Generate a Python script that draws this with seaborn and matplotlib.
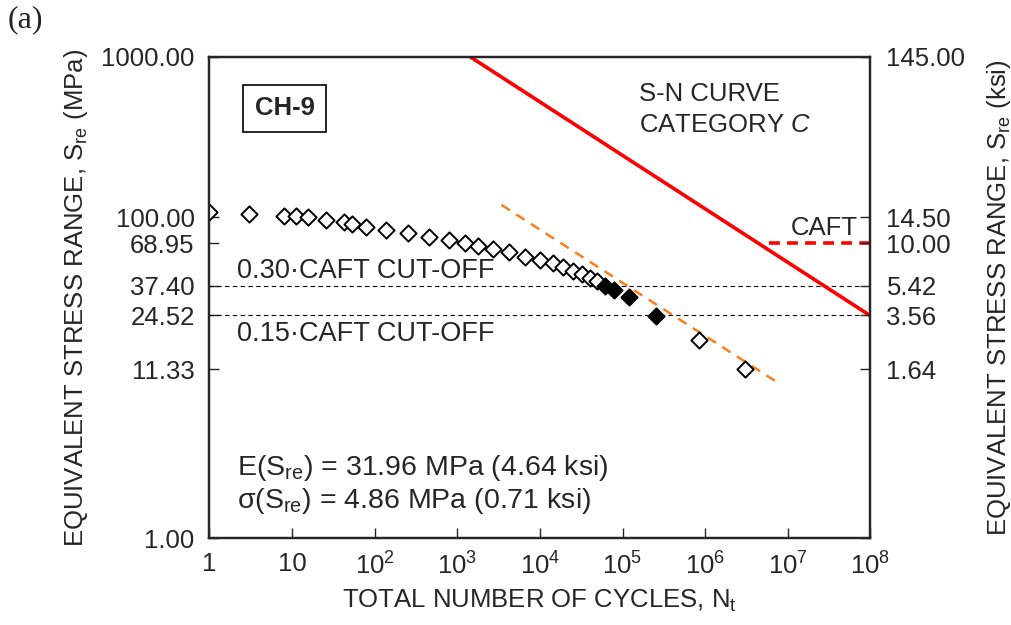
import matplotlib
matplotlib.use("Agg")
import matplotlib.pyplot as plt
import seaborn as sns
import pandas as pd

# measured fatigue data (cycles, equivalent stress range in MPa)
open_cycles = [1, 3.05, 8.07, 11.2, 15.7, 25.8, 42.5, 53.6, 78.5, 137, 255, 457, 798,
               1225, 1790, 2720, 4200, 6560, 10170, 14300, 19300, 25000, 32400,
               40100, 49200, 8.33e5, 3.06e6]
open_stress = [107.6, 105, 102.5, 102.5, 101, 96.3, 94, 91.4, 87.2, 83.8, 79.6, 75.5,
               72.6, 69.6, 66, 63.2, 60.8, 56.9, 54.2, 51.7, 48.9, 46.3, 44.0, 42.1,
               40.3, 17.2, 11.4]
filled_cycles = [62100, 78300, 119000, 254000]
filled_stress = [37.5, 35.2, 31.7, 24.4]

# S-N curve category C, fitted trend, CAFT
sn_cycles = [1.44e3, 1e8]
sn_stress = [1000, 24.3]
fit_cycles = [3.43e3, 7.26e6]
fit_stress = [119.5, 9.44]
caft_cycles = [6.0e6, 1e8]
caft_stress = [68.95, 68.95]
cutoff_030 = 37.40
cutoff_015 = 24.52

left_ticks = [1.00, 11.33, 24.52, 37.40, 68.95, 100.00, 1000.00]
right_labels = ["", "1.64", "3.56", "5.42", "10.00", "14.50", "145.00"]
x_ticks = [1, 10, 1e2, 1e3, 1e4, 1e5, 1e6, 1e7, 1e8]
x_labels = ["1", "10", "$10^{2}$", "$10^{3}$", "$10^{4}$", "$10^{5}$",
            "$10^{6}$", "$10^{7}$", "$10^{8}$"]

sns.set_style("ticks")
plt.rcParams["font.family"] = ["Liberation Sans", "DejaVu Sans"]
plt.rcParams["mathtext.fontset"] = "custom"
plt.rcParams["mathtext.rm"] = "Liberation Sans"
plt.rcParams["mathtext.it"] = "Liberation Sans:italic"
plt.rcParams["mathtext.bf"] = "Liberation Sans:bold"

FS = 18.5

fig = plt.figure(figsize=(10.11, 6.25), dpi=100)
ax = fig.add_axes([0.207, 0.139, 0.654, 0.770])
ax.set_xscale("log")
ax.set_yscale("log")

sns.lineplot(x=sn_cycles, y=sn_stress, ax=ax, color="#ff0000", linewidth=2.6)
sns.lineplot(x=fit_cycles, y=fit_stress, ax=ax, color="#f7801e", linewidth=1.8,
             linestyle=(0, (4, 3)))
sns.lineplot(x=caft_cycles, y=caft_stress, ax=ax, color="#ff0000", linewidth=2.6,
             linestyle=(0, (3, 2)))
ax.axhline(cutoff_030, color="black", linewidth=0.8, linestyle=(0, (4, 3)), zorder=1)
ax.axhline(cutoff_015, color="black", linewidth=0.8, linestyle=(0, (4, 3)), zorder=1)

open_df = pd.DataFrame({"cycles": open_cycles, "stress": open_stress})
filled_df = pd.DataFrame({"cycles": filled_cycles, "stress": filled_stress})
sns.scatterplot(data=open_df, x="cycles", y="stress", ax=ax, marker="D", s=68,
                facecolor="white", edgecolor="black", linewidth=1.4, zorder=5)
sns.scatterplot(data=filled_df, x="cycles", y="stress", ax=ax, marker="D", s=68,
                color="black", edgecolor="black", linewidth=1.4, zorder=5)

ax.set_xlim(1, 1e8)
ax.set_ylim(1, 1000)
ax.minorticks_off()
ax.set_xticks(x_ticks)
ax.set_xticklabels(x_labels)
ax.set_yticks(left_ticks)
ax.set_yticklabels([f"{v:.2f}" for v in left_ticks])
ax.tick_params(axis="both", direction="in", length=7, width=1, labelsize=FS)
ax.tick_params(axis="y", pad=10.5)
ax.tick_params(axis="x", pad=10)
for sp in ax.spines.values():
    sp.set_linewidth(1.6)
    sp.set_color("black")

ax2 = ax.twinx()
ax2.set_yscale("log")
ax2.set_ylim(1, 1000)
ax2.minorticks_off()
ax2.set_yticks(left_ticks)
ax2.set_yticklabels(right_labels)
ax2.tick_params(axis="y", direction="in", length=7, width=1, labelsize=FS, pad=11.5)
for sp in ax2.spines.values():
    sp.set_linewidth(1.6)

ax.set_xlabel("TOTAL NUMBER OF CYCLES, N$_{\\rm t}$", fontsize=FS, labelpad=6)
ax.set_ylabel("EQUIVALENT STRESS RANGE, S$_{\\rm re}$ (MPa)", fontsize=FS)
ax.yaxis.set_label_coords(-0.181, 0.5)
ax2.set_ylabel("EQUIVALENT STRESS RANGE, S$_{\\rm re}$ (ksi)", fontsize=FS)
ax2.yaxis.set_label_coords(1.173, 0.5)

ax.text(0.114, 0.893, "CH-9", transform=ax.transAxes, fontsize=FS, fontweight="bold",
        ha="center", va="center",
        bbox=dict(boxstyle="square,pad=0.45", facecolor="white", edgecolor="black",
                  linewidth=1.2))
ax.text(0.65, 0.948, "S-N CURVE\nCATEGORY $\\it{C}$", transform=ax.transAxes,
        fontsize=FS, ha="left", va="top", linespacing=1.35)
ax.text(0.93, 0.645, "CAFT", transform=ax.transAxes, fontsize=FS, ha="center",
        va="center")
ax.text(0.042, 0.555, "0.30·CAFT CUT-OFF", transform=ax.transAxes, fontsize=19.5,
        ha="left", va="center")
ax.text(0.042, 0.425, "0.15·CAFT CUT-OFF", transform=ax.transAxes, fontsize=19.5,
        ha="left", va="center")
ax.text(0.042, 0.145, "E(S$_{\\rm re}$) = 31.96 MPa (4.64 ksi)", transform=ax.transAxes,
        fontsize=20.5, ha="left", va="center")
ax.text(0.042, 0.077, "σ(S$_{\\rm re}$) = 4.86 MPa (0.71 ksi)", transform=ax.transAxes,
        fontsize=20.5, ha="left", va="center")

fig.text(0.008, 0.968, "(a)", fontsize=23, family="Liberation Serif", ha="left",
         va="center")

plt.savefig("out.png", dpi=100)
plt.close()
